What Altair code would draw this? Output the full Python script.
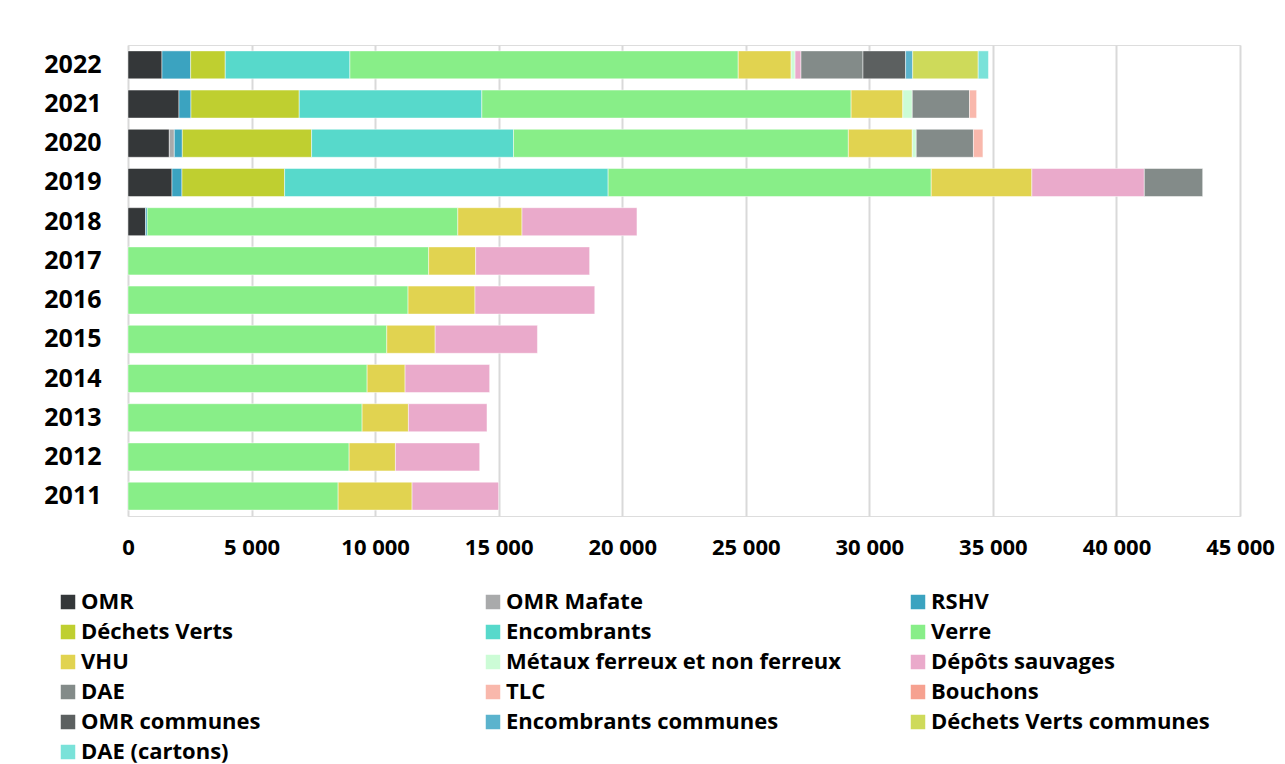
import altair as alt
import pandas as pd

years = [2011, 2012, 2013, 2014, 2015, 2016, 2017, 2018, 2019, 2020, 2021, 2022]

categories = ["OMR", "OMR Mafate", "RSHV", "Déchets Verts", "Encombrants", "Verre",
              "VHU", "Métaux ferreux et non ferreux", "Dépôts sauvages", "DAE", "TLC",
              "Bouchons", "OMR communes", "Encombrants communes",
              "Déchets Verts communes", "DAE (cartons)"]

colors = ["#343739", "#A9AAAB", "#3BA3C0", "#BFCF30", "#57D9CB", "#88EE88",
          "#E1D350", "#CCFCD6", "#EAAACB", "#838B89", "#F9B8AC", "#F6A190",
          "#5C6060", "#5BB3CD", "#CEDA5A", "#7AE2D9"]

# values per category, years 2011 .. 2022
omr            = [0, 0, 0, 0, 0, 0, 0, 708, 1780, 1672, 2063, 1375]
omr_mafate     = [0, 0, 0, 0, 0, 0, 0, 0, 0, 202, 0, 0]
rshv           = [0, 0, 0, 0, 0, 0, 0, 70, 404, 324, 485, 1161]
dechets_verts  = [0, 0, 0, 0, 0, 0, 0, 0, 4153, 5232, 4382, 1400]
encombrants    = [0, 0, 0, 0, 0, 0, 0, 0, 13093, 8170, 7389, 5043]
verre          = [8504, 8949, 9474, 9677, 10472, 11333, 12167, 12569, 13075, 13551, 14944, 15716]
vhu            = [2992, 1873, 1874, 1536, 1959, 2709, 1902, 2597, 4072, 2587, 2092, 2140]
metaux         = [0, 0, 0, 0, 0, 0, 0, 0, 0, 160, 383, 160]
depots         = [3504, 3410, 3180, 3423, 4138, 4847, 4612, 4653, 4551, 0, 0, 240]
dae            = [0, 0, 0, 0, 0, 0, 0, 0, 2362, 2315, 2316, 2508]
tlc            = [0, 0, 0, 0, 0, 0, 0, 0, 0, 384, 287, 0]
bouchons       = [0, 0, 0, 0, 0, 0, 0, 0, 0, 0, 0, 0]
omr_communes   = [0, 0, 0, 0, 0, 0, 0, 0, 0, 0, 0, 1725]
enc_communes   = [0, 0, 0, 0, 0, 0, 0, 0, 0, 0, 0, 287]
dv_communes    = [0, 0, 0, 0, 0, 0, 0, 0, 0, 0, 0, 2651]
dae_cartons    = [0, 0, 0, 0, 0, 0, 0, 0, 0, 0, 0, 415]

series = [omr, omr_mafate, rshv, dechets_verts, encombrants, verre, vhu, metaux,
          depots, dae, tlc, bouchons, omr_communes, enc_communes, dv_communes, dae_cartons]

rows = []
for ci, (cat, vals) in enumerate(zip(categories, series)):
    for y, v in zip(years, vals):
        if v > 0:
            rows.append({"Année": str(y), "Catégorie": cat, "ordre": ci, "Tonnage": v})
df = pd.DataFrame(rows)

year_order = [str(y) for y in reversed(years)]
FONT = "Open Sans"

chart = alt.Chart(df).mark_bar(stroke="#FFFFFF", strokeWidth=0.6, strokeOpacity=0.8).encode(
    y=alt.Y("Année:N", sort=year_order, title=None,
            scale=alt.Scale(paddingInner=0.286, paddingOuter=0.15),
            axis=alt.Axis(labelFontSize=25, labelFontWeight="bold", labelColor="#000000",
                          labelFont=FONT, ticks=False, domain=False, labelPadding=27,
                          minExtent=115, maxExtent=115)),
    x=alt.X("Tonnage:Q", stack="zero", title=None,
            scale=alt.Scale(domain=[0, 45000], nice=False),
            axis=alt.Axis(values=list(range(0, 45001, 5000)),
                          labelExpr="replace(format(datum.value, ','), ',', ' ')",
                          labelFontSize=22, labelFontWeight="bold", labelColor="#000000",
                          labelFont=FONT, ticks=False, domain=False, labelPadding=21,
                          labelFlush=False, labelBound=False, labelOverlap=False,
                          grid=True, gridColor="#D9D9D9", gridWidth=2)),
    color=alt.Color("Catégorie:N",
                    scale=alt.Scale(domain=categories, range=colors),
                    legend=alt.Legend(title=None, orient="none", legendX=-71, legendY=546,
                                      columns=3, direction="horizontal", gridAlign="all",
                                      symbolType="square", symbolSize=210, symbolStrokeWidth=0,
                                      labelFontSize=22, labelFontWeight="bold",
                                      labelFont=FONT, labelColor="#000000", labelLimit=500,
                                      labelOffset=2, columnPadding=65, rowPadding=8)),
    order=alt.Order("ordre:Q", sort="ascending"),
    tooltip=["Année:N", "Catégorie:N", "Tonnage:Q"],
).properties(
    width=1112, height=471,
    padding={"left": 5, "top": 37, "right": 0, "bottom": 0},
).configure_view(stroke=None).configure(background="#FFFFFF")

chart.save("out.html", embed_options={"renderer": "svg", "actions": False})
